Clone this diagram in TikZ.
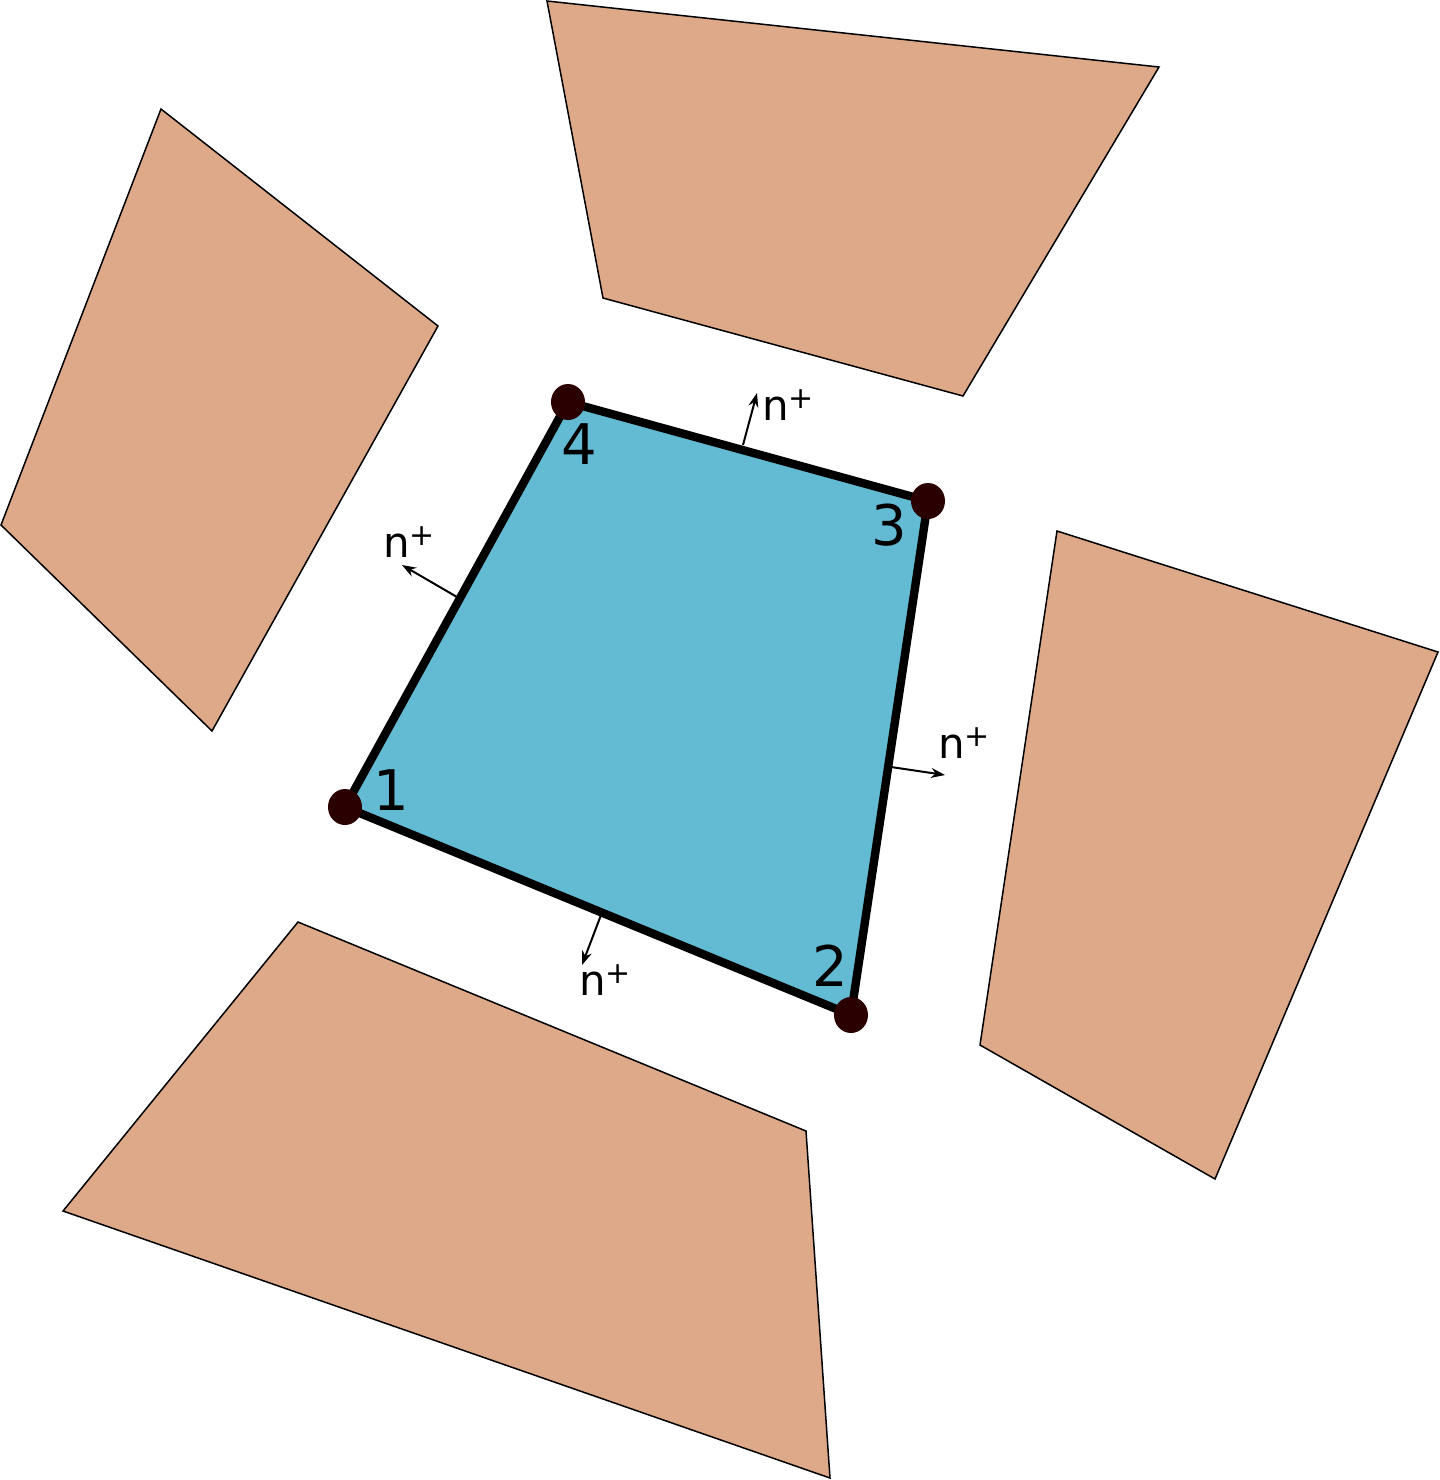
\documentclass[tikz,border=0pt]{standalone}
\usepackage{fontspec}
\setmainfont{DejaVu Sans}
\usetikzlibrary{arrows.meta,shapes.geometric}
\definecolor{brownfill}{HTML}{DEA988}
\definecolor{bluefill}{HTML}{62BBD3}
\definecolor{dotcol}{HTML}{2B0000}
\newcommand{\npl}{n\raisebox{0.55ex}{\fontsize{15}{16}\selectfont +}}
\tikzset{
  block/.style={draw=black, line width=0.75pt, fill=brownfill, line join=miter},
  elem/.style={draw=black, line width=4.2pt, fill=bluefill, line join=round},
  vdot/.style={fill=dotcol, ellipse, inner sep=0pt, minimum width=17pt, minimum height=18pt},
  normal/.style={-{Stealth[length=7pt,width=5pt]}, line width=1pt},
  numlab/.style={font=\fontsize{28}{30}\selectfont, inner sep=0pt},
  nlab/.style={font=\fontsize{21}{24}\selectfont, inner sep=0pt}
}
\begin{document}
\begin{tikzpicture}[x=0.5pt,y=-0.5pt]
\useasboundingbox (0,0) rectangle (1440,1480);
% surrounding blocks
\draw[block] (161,109) -- (438,326) -- (212,731) -- (1,525) -- cycle;
\draw[block] (547,1) -- (1159,67) -- (963,396) -- (603,298) -- cycle;
\draw[block] (1057,531) -- (1438,652) -- (1215,1179) -- (980,1045) -- cycle;
\draw[block] (298,922) -- (806,1131) -- (830,1478) -- (63,1211) -- cycle;
% element
\coordinate (v1) at (345,807);
\coordinate (v2) at (851,1015);
\coordinate (v3) at (928,501);
\coordinate (v4) at (568,402);
\draw[elem] (v1) -- (v2) -- (v3) -- (v4) -- cycle;
\node[vdot] (d1) at (v1) {};
\node[vdot] (d2) at (v2) {};
\node[vdot] (d3) at (v3) {};
\node[vdot] (d4) at (v4) {};
\node[numlab] (l1) at (391,790) {1};
\node[numlab] (l2) at (830,966) {2};
\node[numlab] (l3) at (889,525) {3};
\node[numlab] (l4) at (579,444) {4};
% normals
\coordinate (s4) at (743,445); \coordinate (e4) at (757,393);
\coordinate (s1) at (457,597); \coordinate (e1) at (402,565);
\coordinate (s2) at (891,767); \coordinate (e2) at (945,775);
\coordinate (s3) at (601,915); \coordinate (e3) at (582,965);
\draw[normal] (s4) -- (e4);
\draw[normal] (s1) -- (e1);
\draw[normal] (s2) -- (e2);
\draw[normal] (s3) -- (e3);
\node[nlab] (n4) at (788,405) {\npl};
\node[nlab] (n1) at (409,542) {\npl};
\node[nlab] (n2) at (964,743) {\npl};
\node[nlab] (n3) at (605,980) {\npl};
\end{tikzpicture}
\end{document}
